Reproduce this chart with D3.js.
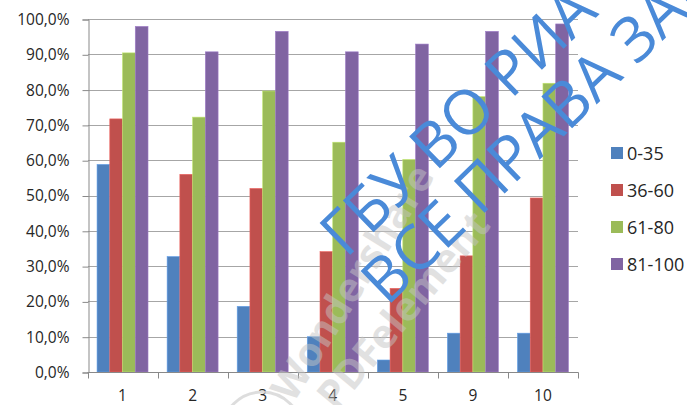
<!DOCTYPE html>
<html>
<head>
<meta charset="utf-8">
<script src="https://cdn.jsdelivr.net/npm/d3@7"></script>
<style>
  body { margin: 0; background: #fff; }
  svg { font-family: "Open Sans", "DejaVu Sans", sans-serif; }
</style>
</head>
<body>
<svg id="chart" width="687" height="405"></svg>
<script>
// categories and series
const categories = ["1", "2", "3", "4", "5", "9", "10"];
const seriesNames = ["0-35", "36-60", "61-80", "81-100"];
const seriesColors = ["#4F81BD", "#C0504D", "#9BBB59", "#8064A2"];

const s0_35   = [58.8, 32.7, 18.6, 10.0, 3.4, 11.0, 11.0];
const s36_60  = [71.7, 56.0, 52.0, 34.1, 23.7, 32.9, 49.3];
const s61_80  = [90.4, 72.2, 79.6, 65.1, 60.2, 78.0, 81.8];
const s81_100 = [97.9, 90.7, 96.5, 90.7, 92.9, 96.5, 98.6];
const values = [s0_35, s36_60, s61_80, s81_100];

const yTicks = [0, 10, 20, 30, 40, 50, 60, 70, 80, 90, 100];

const svg = d3.select("#chart");

const x0 = d3.scaleBand().domain(categories).range([87.5, 578]);
const x1 = d3.scaleBand().domain(seriesNames)
    .range([0, x0.bandwidth()])
    .paddingInner(0).paddingOuter(0.75);
const y = d3.scaleLinear().domain([0, 100]).range([372, 19]);

// gridlines
svg.append("g")
  .selectAll("line")
  .data(yTicks.slice(1))
  .join("line")
    .attr("x1", 88).attr("x2", 578)
    .attr("y1", d => Math.round(y(d)) + 0.5)
    .attr("y2", d => Math.round(y(d)) + 0.5)
    .attr("stroke", "#A6A6A6")
    .attr("stroke-width", 1.2);

// y axis
const yAxis = d3.axisLeft(y)
    .tickValues(yTicks)
    .tickSize(6)
    .tickPadding(13)
    .tickFormat(d => d3.format(".1f")(d).replace(".", ",") + "%");

svg.append("g")
    .attr("transform", "translate(88.5,0.5)")
    .call(yAxis)
    .call(g => g.select(".domain").attr("stroke", "#898989"))
    .call(g => g.selectAll(".tick line").attr("stroke", "#898989"))
    .call(g => g.selectAll("text")
        .attr("font-size", 15.5)
        .attr("fill", "#262626")
        .attr("font-family", "Open Sans"));

// bars
const groups = svg.append("g")
  .selectAll("g")
  .data(categories)
  .join("g")
    .attr("transform", d => `translate(${x0(d)},0)`);

groups.selectAll("rect")
  .data((c, i) => seriesNames.map((s, j) => ({ s: s, v: values[j][i], j: j })))
  .join("rect")
    .attr("x", d => x1(d.s))
    .attr("y", d => y(d.v))
    .attr("width", x1.bandwidth())
    .attr("height", d => y(0) - y(d.v))
    .attr("fill", d => seriesColors[d.j])
    .attr("stroke", d => d3.color(seriesColors[d.j]).brighter(0.6))
    .attr("stroke-width", 0.6);

// x axis
const xAxis = d3.axisBottom(x0).tickSize(0).tickPadding(17);
const xg = svg.append("g")
    .attr("transform", "translate(0,372.5)")
    .call(xAxis);
xg.select(".domain").attr("stroke", "#898989").attr("d", "M87.5,0H578.5");
xg.selectAll("text")
    .attr("font-size", 15.5)
    .attr("fill", "#262626")
    .attr("font-family", "Open Sans");
// category boundary ticks
xg.append("g")
  .selectAll("line")
  .data(categories.concat(["end"]))
  .join("line")
    .attr("x1", (d, i) => Math.round(87.5 + i * x0.step()) + 0.5)
    .attr("x2", (d, i) => Math.round(87.5 + i * x0.step()) + 0.5)
    .attr("y1", 0).attr("y2", 6)
    .attr("stroke", "#898989");

// legend
const legend = svg.append("g")
  .selectAll("g")
  .data(seriesNames)
  .join("g")
    .attr("transform", (d, i) => `translate(611,${153 + i * 37})`);
legend.append("rect")
    .attr("x", 0).attr("y", -6)
    .attr("width", 12).attr("height", 12)
    .attr("fill", (d, i) => seriesColors[i]);
legend.append("text")
    .attr("x", 16).attr("y", 6.5)
    .attr("font-size", 18)
    .attr("fill", "#262626")
    .text(d => d);

// watermarks
const wm = svg.append("g").attr("pointer-events", "none");
wm.append("circle")
    .attr("cx", 262).attr("cy", 432).attr("r", 40)
    .attr("fill", "none").attr("stroke", "#d4d4d4").attr("stroke-width", 3)
    .attr("opacity", 0.8);
wm.append("text")
    .attr("transform", "translate(293,404) rotate(-58)")
    .attr("font-size", 40).attr("font-weight", "bold")
    .attr("fill", "#c4c4c4").attr("opacity", 0.5)
    .text("Wondershare");
wm.append("text")
    .attr("transform", "translate(336,412) rotate(-50)")
    .attr("font-size", 40).attr("font-weight", "bold")
    .attr("fill", "#c4c4c4").attr("opacity", 0.5)
    .text("PDFelement");

wm.append("text")
    .attr("transform", "translate(346,259) rotate(-44)")
    .attr("font-size", 62).attr("font-weight", 400)
    .attr("fill", "#4A8AD8")
    .text("ГБУ ВО РИА 35");
wm.append("text")
    .attr("transform", "translate(387,307) rotate(-44)")
    .attr("font-size", 62).attr("font-weight", 400)
    .attr("fill", "#4A8AD8")
    .text("ВСЕ ПРАВА ЗАЩИЩЕНЫ");
</script>
</body>
</html>
